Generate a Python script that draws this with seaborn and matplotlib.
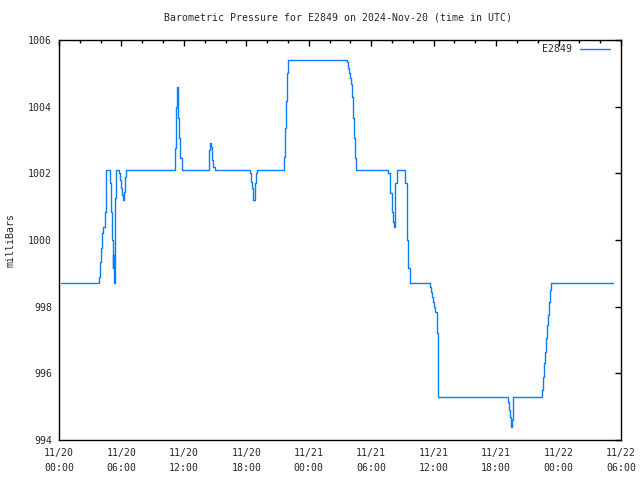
import numpy as np
import pandas as pd
import matplotlib
matplotlib.use("Agg")
import matplotlib.pyplot as plt
import matplotlib.dates as mdates
import seaborn as sns

# Hours after 2024-11-20 00:00 UTC and pressure readings (mb)
hours = [0.24, 3.82, 3.96, 4.01, 4.11, 4.20, 4.40, 4.49, 4.56, 4.88, 4.97, 5.07,
         5.16, 5.21, 5.26, 5.36, 5.45, 5.81, 5.88, 5.97, 6.07, 6.16, 6.22, 6.32,
         6.48, 11.18, 11.25, 11.35, 11.40, 11.47, 11.57, 11.66, 11.83, 14.38, 14.45,
         14.52, 14.57, 14.67, 14.74, 14.83, 14.96, 18.32, 18.41, 18.51, 18.60, 18.67,
         18.80, 18.89, 18.99, 21.58, 21.68, 21.77, 21.87, 21.96, 27.67, 27.76, 27.86,
         27.95, 28.05, 28.15, 28.24, 28.34, 28.43, 28.49, 31.66, 31.76, 31.85, 31.95,
         32.04, 32.11, 32.21, 32.27, 32.33, 32.43, 33.29, 33.39, 33.48, 33.58, 33.71,
         35.66, 35.76, 35.85, 35.95, 36.05, 36.14, 36.31, 36.40, 36.46, 43.12, 43.22,
         43.31, 43.44, 43.53, 43.60, 43.66, 46.44, 46.54, 46.63, 46.73, 46.83, 46.92,
         47.02, 47.12, 47.18, 47.31, 53.23]
pressure = [998.7, 998.9, 999.35, 999.75, 1000.2, 1000.4, 1000.85, 1001.7, 1002.1,
            1001.7, 1000.85, 1000.0, 999.15, 999.55, 998.7, 1001.25, 1002.1, 1002.0,
            1001.8, 1001.55, 1001.35, 1001.2, 1001.45, 1001.9, 1002.1, 1002.75,
            1004.0, 1004.6, 1004.3, 1003.65, 1003.05, 1002.45, 1002.1, 1002.3, 1002.7,
            1002.9, 1002.8, 1002.6, 1002.4, 1002.2, 1002.1, 1002.0, 1001.75, 1001.55,
            1001.3, 1001.2, 1001.7, 1002.0, 1002.1, 1002.5, 1003.35, 1004.18, 1005.0,
            1005.4, 1005.35, 1005.15, 1005.0, 1004.87, 1004.68, 1004.28, 1003.67,
            1003.07, 1002.45, 1002.1, 1002.0, 1001.7, 1001.42, 1001.12, 1000.85,
            1000.55, 1000.4, 1000.85, 1001.7, 1002.1, 1001.7, 1000.85, 1000.0, 999.15,
            998.7, 998.6, 998.45, 998.3, 998.15, 998.0, 997.85, 997.2, 995.9, 995.3,
            995.15, 994.9, 994.7, 994.4, 994.6, 995.05, 995.3, 995.5, 995.9, 996.3,
            996.65, 997.05, 997.45, 997.75, 998.15, 998.5, 998.7, 998.7]
station = "E2849"
title = "Barometric Pressure for E2849 on 2024-Nov-20 (time in UTC)"
ylabel = "milliBars"
y_ticks = [994, 996, 998, 1000, 1002, 1004, 1006]

base = pd.Timestamp("2024-11-20 00:00")
df = pd.DataFrame({"time": base + pd.to_timedelta(hours, unit="h"),
                   "pressure": pressure,
                   "station": station})

sns.set_style("white")
plt.rcParams["font.family"] = ["DejaVu Sans Mono"]
fs = 7.1
plt.rcParams["font.size"] = fs

fig = plt.figure(figsize=(6.4, 4.8), dpi=100)
ax = fig.add_axes([59 / 640, 1 - 440 / 480, (621 - 59) / 640, (440 - 40) / 480])

sns.lineplot(data=df, x="time", y="pressure", hue="station",
             palette=["#0a7cff"], drawstyle="steps-post", linewidth=1.0,
             estimator=None, ax=ax)

ax.set_xlim(base, base + pd.Timedelta(hours=54))
ax.set_ylim(994, 1006)
ax.set_yticks(y_ticks)
ax.xaxis.set_major_locator(mdates.HourLocator(byhour=[0, 6, 12, 18]))
ax.xaxis.set_minor_locator(mdates.HourLocator(byhour=range(0, 24, 2)))
ax.xaxis.set_major_formatter(mdates.DateFormatter("%m/%d\n%H:%M"))

ax.tick_params(which="major", direction="in", length=4, width=1, color="black",
               top=True, right=True, labelsize=fs, pad=6)
ax.tick_params(which="minor", direction="in", length=2, width=1, color="black",
               top=True, right=True)
ax.tick_params(axis="y", pad=5)
for lab in ax.get_xticklabels():
    lab.set_linespacing(1.55)
for s in ax.spines.values():
    s.set_color("black")
    s.set_linewidth(1)

ax.set_xlabel("")
ax.set_ylabel(ylabel, fontsize=fs, labelpad=9)
fig.suptitle(title, x=338 / 640, y=1 - 12 / 480, fontsize=fs, va="top")

leg = ax.legend(loc="upper right", bbox_to_anchor=(0.991, 1.005), frameon=False,
                markerfirst=False, handlelength=3.0, fontsize=fs,
                borderaxespad=0.25, handletextpad=0.8)

fig.savefig("out.png", dpi=100)
